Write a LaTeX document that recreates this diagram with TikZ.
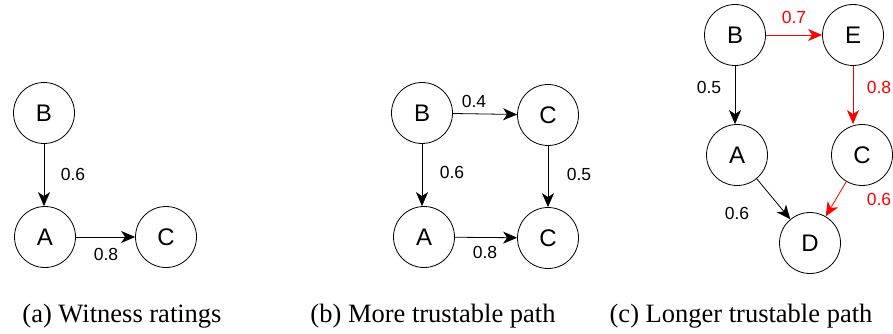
\documentclass[tikz,border=0pt]{standalone}
\usepackage{fontspec}
\setmainfont{Liberation Serif}
\newfontfamily\nodefont{Liberation Sans}
\usetikzlibrary{arrows.meta}

\begin{document}
\begin{tikzpicture}[x=1pt, y=-1pt,
            vtx/.style={circle, draw=black, line width=0.8pt, minimum size=61pt, inner sep=0pt, font=\nodefont\fontsize{24}{28}\selectfont},
            wt/.style={font=\nodefont\fontsize{17.5}{20}\selectfont, inner sep=0pt},
            link/.style={line width=0.8pt, -{Stealth[length=14pt, width=12pt, inset=4pt]}},
            subcap/.style={font=\fontsize{26.5}{30}\selectfont, inner sep=0pt, anchor=base}
        ]
        \useasboundingbox (0,0) rectangle (893,334);

        % (a) witness ratings
        \node[vtx] (aB) at (44,113) {B};
        \node[vtx] (aA) at (45,237) {A};
        \node[vtx] (aC) at (166,237) {C};
        \draw[link] (aB) -- (aB |- aA.north);
        \draw[link] (aA) -- (aC);
        \node[wt] (waBA) at (73,174) {0.6};
        \node[wt] (waAC) at (106,254) {0.8};

        % (b) more trustable path
        \node[vtx] (bB) at (422,113) {B};
        \node[vtx] (bC1) at (548,115) {C};
        \node[vtx] (bA) at (424,237) {A};
        \node[vtx] (bC2) at (548,238) {C};
        \draw[link] (bB) -- (bC1);
        \draw[link] (bB) -- (bB |- bA.north);
        \draw[link] (bC1) -- (bC2);
        \draw[link] (bA) -- (bC2);
        \node[wt] (wbBC) at (474,101) {0.4};
        \node[wt] (wbBA) at (452,172) {0.6};
        \node[wt] (wbCC) at (579,174) {0.5};
        \node[wt] (wbAC) at (485,252) {0.8};

        % (c) longer trustable path
        \node[vtx] (cB) at (735,35) {B};
        \node[vtx] (cE) at (853,35) {E};
        \node[vtx] (cA) at (737,155) {A};
        \node[vtx] (cC) at (862,155) {C};
        \node[vtx] (cD) at (810,243) {D};
        \draw[link, red] (cB) -- (cE);
        \draw[link] (cB) -- (cB |- cA.north);
        \draw[link, red] (cE.south) -- (cE.south |- cC.north);
        \draw[link] (cA) -- (cD);
        \draw[link, red] (cC) -- (cD);
        \node[wt, red] (wcBE) at (794,17) {0.7};
        \node[wt] (wcBA) at (709,87) {0.5};
        \node[wt, red] (wcEC) at (879,87) {0.8};
        \node[wt] (wcAD) at (737,213) {0.6};
        \node[wt, red] (wcCD) at (879,199) {0.6};

        \node[subcap] (capa) at (122,322) {(a) Witness ratings};
        \node[subcap] (capb) at (433,322) {(b) More trustable path};
        \node[subcap] (capc) at (741,322) {(c) Longer trustable path};
    \end{tikzpicture}
\end{document}
